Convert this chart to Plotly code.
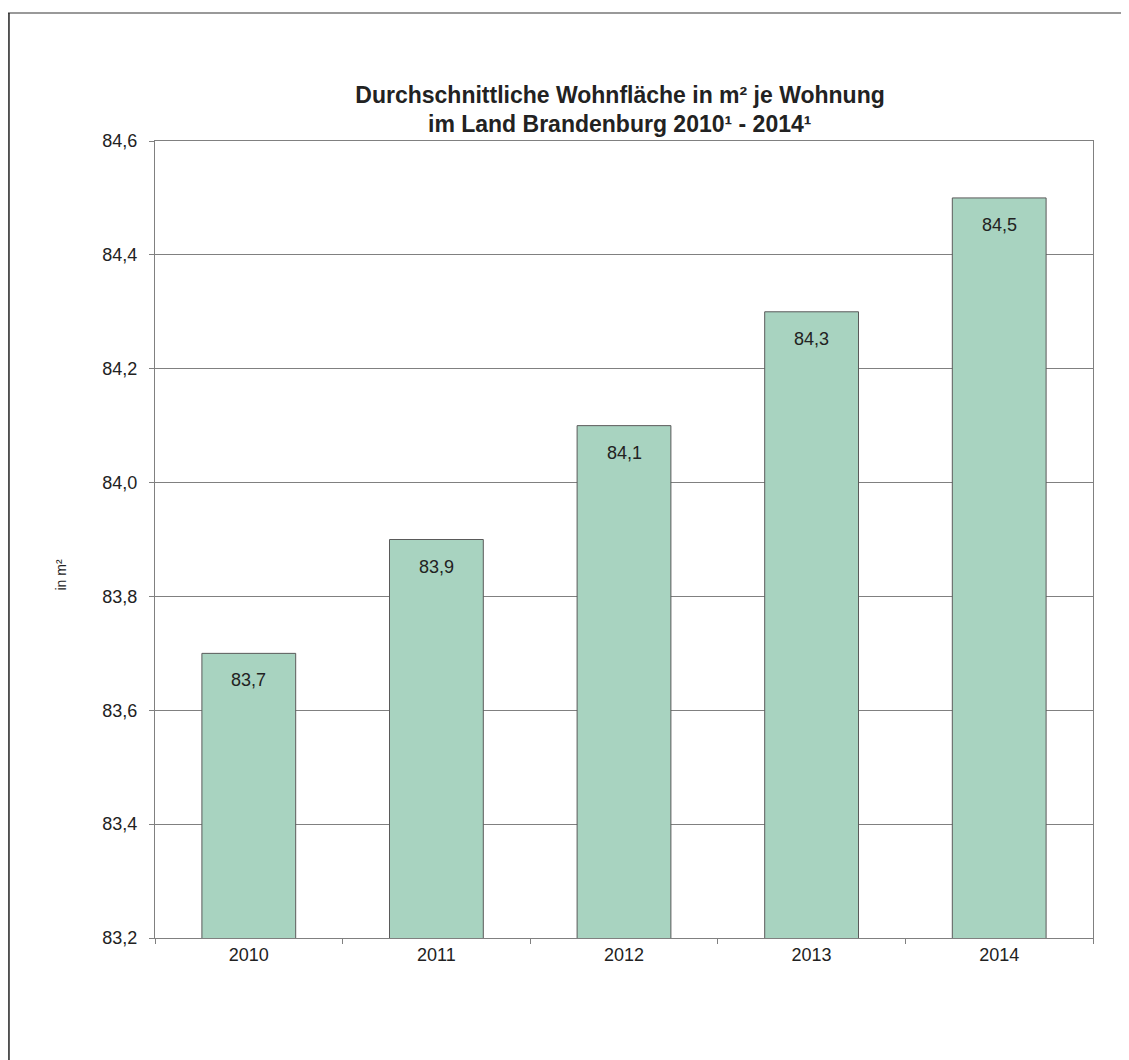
import plotly.graph_objects as go

# Daten
jahre = ["2010", "2011", "2012", "2013", "2014"]
wohnflaeche = [83.7, 83.9, 84.1, 84.3, 84.5]
y_ticks = [83.2, 83.4, 83.6, 83.8, 84.0, 84.2, 84.4, 84.6]

FONT = "Arial, Liberation Sans, sans-serif"

fig = go.Figure()
fig.add_trace(
    go.Bar(
        x=jahre,
        y=wohnflaeche,
        marker=dict(color="#A8D3C0", line=dict(color="#5a5a5a", width=1)),
        width=0.5,
        hoverinfo="skip",
    )
)

# Werte-Beschriftung in den Säulen (knapp unter der Oberkante)
for i, v in enumerate(wohnflaeche):
    fig.add_annotation(
        x=i, y=v, text=f"{v:.1f}".replace(".", ","),
        showarrow=False, yanchor="middle", yshift=-27,
        font=dict(family=FONT, size=18, color="#222"),
    )

# Achsentitel
fig.add_annotation(
    xref="paper", yref="paper", x=-0.1, y=0.455,
    text="in m²", textangle=-90, showarrow=False,
    xanchor="center", yanchor="middle",
    font=dict(family=FONT, size=14, color="#222"),
)

# zweite Titelzeile
fig.add_annotation(
    xref="paper", yref="paper", x=0.4957, y=1 + (133 - 116) / 797,
    text="<b>im Land Brandenburg 2010¹ - 2014¹</b>",
    showarrow=False, xanchor="center", yanchor="middle",
    font=dict(family=FONT, size=23, color="#222"),
)

fig.update_layout(
    width=1121,
    height=1052,
    margin=dict(l=147, r=36, t=133, b=122),
    paper_bgcolor="white",
    plot_bgcolor="white",
    showlegend=False,
    separators=",.",
    font=dict(family=FONT, size=18, color="#222"),
    title=dict(
        text="<b>Durchschnittliche Wohnfläche in m² je Wohnung</b>",
        x=0.546, xanchor="center",
        y=1 - 87 / 1052, yanchor="middle",
        font=dict(family=FONT, size=23, color="#222"),
    ),
)
fig.update_yaxes(
    range=[83.2, 84.6],
    tickvals=y_ticks,
    tickformat=".1f",
    showgrid=True,
    gridcolor="#808080",
    gridwidth=1,
    showline=True,
    linecolor="#808080",
    mirror=True,
    ticks="outside",
    ticklen=5,
    tickcolor="#808080",
    ticklabelstandoff=8,
    zeroline=False,
)
fig.update_xaxes(
    type="category",
    range=[-0.5, len(jahre) - 0.5],
    showline=True,
    linecolor="#808080",
    mirror=True,
    ticks="outside",
    ticklen=5,
    tickcolor="#808080",
    tickson="boundaries",
    showgrid=False,
)
# Rahmen um die Grafik (oben und links)
fig.add_shape(type="line", xref="paper", yref="paper", x0=-0.1567, x1=1.04,
              y0=1.1606, y1=1.1606, line=dict(color="#999", width=2), layer="above")
fig.add_shape(type="line", xref="paper", yref="paper", x0=-0.1557, x1=-0.1557,
              y0=-0.2, y1=1.1606, line=dict(color="#222", width=1.5), layer="above")

fig.write_html("out.html")
